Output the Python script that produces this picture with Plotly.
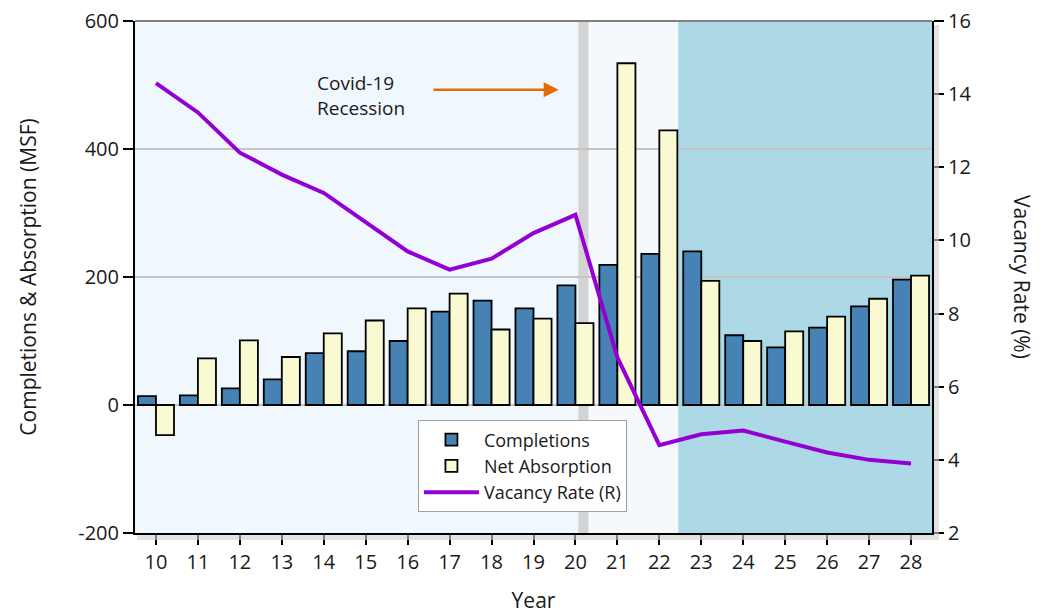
import plotly.graph_objects as go

years = list(range(10, 29))
completions = [14, 15, 26, 40, 81, 84, 100, 146, 163, 151, 187, 219, 236, 240, 109, 90, 121, 154, 196]
net_absorption = [-47, 73, 101, 75, 112, 132, 151, 174, 118, 135, 128, 534, 429, 194, 100, 115, 138, 166, 202]
vacancy = [14.3, 13.5, 12.4, 11.8, 11.3, 10.5, 9.7, 9.2, 9.5, 10.2, 10.7, 6.8, 4.4, 4.7, 4.8, 4.5, 4.2, 4.0, 3.9]
tick_labels = [str(y) for y in years]
left_ticks = [-200, 0, 200, 400, 600]
left_tick_text = ["-200", "0", "200", "400", "600"]
right_ticks = [2, 4, 6, 8, 10, 12, 14, 16]

FONT = "Open Sans"
TXT = "#1a1a1a"

# page body has an 8px margin; compensate so the plot area lands near 135..932 x 21..533
W, H = 1035, 606
ML, MR, MT, MB = 127, 111, 13, 81
PW = W - ML - MR
PH = H - MT - MB

fig = go.Figure()
fig.add_trace(go.Bar(x=years, y=completions, name="Completions",
                     marker=dict(color="#4682B4", line=dict(color="black", width=1.8))))
fig.add_trace(go.Bar(x=years, y=net_absorption, name="Net Absorption",
                     marker=dict(color="#FAFAD2", line=dict(color="black", width=1.8))))
fig.add_trace(go.Scatter(x=years, y=vacancy, name="Vacancy Rate (R)", yaxis="y2", mode="lines",
                         line=dict(color="#9400D3", width=4)))

shapes = [
    dict(type="rect", xref="x", yref="paper", x0=20.31, x1=22.45, y0=0, y1=1,
         fillcolor="#F5F9FE", line_width=0, layer="below"),
    dict(type="rect", xref="x", yref="paper", x0=22.45, x1=28.5, y0=0, y1=1,
         fillcolor="#ADD8E6", line_width=0, layer="below"),
    dict(type="rect", xref="x", yref="paper", x0=20.07, x1=20.31, y0=0, y1=1,
         fillcolor="#D3D3D3", line_width=0, layer="below"),
    dict(type="line", xref="paper", yref="paper", x0=0, x1=1, y0=1, y1=1,
         line=dict(color="#808080", width=2)),
    # soft shadows along right and bottom axes
    dict(type="rect", xref="paper", yref="paper", x0=1 + 2 / PW, x1=1 + 7 / PW,
         y0=-7 / PH, y1=1 - 4 / PH, fillcolor="#CFCFCF", opacity=0.6, line_width=0),
    dict(type="rect", xref="paper", yref="paper", x0=2 / PW, x1=1 + 2 / PW,
         y0=-7 / PH, y1=-2 / PH, fillcolor="#CFCFCF", opacity=0.6, line_width=0),
]

fig.update_layout(
    width=W, height=H,
    margin=dict(l=ML, r=MR, t=MT, b=MB, autoexpand=False),
    paper_bgcolor="white",
    plot_bgcolor="#F0F7FD",
    barmode="group", bargap=0.14, bargroupgap=0,
    font=dict(family=FONT, color=TXT),
    shapes=shapes,
    showlegend=True,
    legend=dict(x=0.355, y=0.22, xanchor="left", yanchor="top",
                bgcolor="white", bordercolor="#A0A0A0", borderwidth=1,
                font=dict(size=18, family=FONT, color=TXT), traceorder="normal",
                itemwidth=55, tracegroupgap=0),
    xaxis=dict(range=[9.5, 28.5], tickmode="array", tickvals=years, ticktext=tick_labels,
               ticks="outside", ticklen=10, tickwidth=2, tickcolor="black",
               showline=True, linecolor="black", linewidth=2, showgrid=False,
               automargin=False, tickfont=dict(size=20), ticklabeloverflow="allow",
               title=dict(text="Year", font=dict(size=21), standoff=20)),
    yaxis=dict(range=[-200, 600], tickmode="array", tickvals=left_ticks, ticktext=left_tick_text,
               ticks="outside", ticklen=10, tickwidth=2,
               tickcolor="black", showline=True, linecolor="black", linewidth=2,
               gridcolor="#C4C4C4", gridwidth=2, zeroline=True, zerolinecolor="#C4C4C4",
               zerolinewidth=2, tickfont=dict(size=20), automargin=False,
               ticklabeloverflow="allow",
               title=dict(text="Completions & Absorption (MSF)", font=dict(size=21), standoff=36)),
    yaxis2=dict(range=[2, 16], tickmode="array", tickvals=right_ticks, overlaying="y",
                side="right", ticks="outside",
                ticklen=10, tickwidth=2, tickcolor="black", showline=True, linecolor="black",
                linewidth=2, showgrid=False, zeroline=False, tickfont=dict(size=20),
                automargin=False, ticklabeloverflow="allow"),
    annotations=[
        dict(text="Covid-19<br>Recession", xref="x", yref="y", x=13.79, y=484,
             xanchor="left", yanchor="middle", align="left", showarrow=False,
             font=dict(size=19, family=FONT, color=TXT)),
        dict(text="", xref="x", yref="y", x=19.6, y=492.6, ax=16.58, ay=492.6,
             axref="x", ayref="y", showarrow=True, arrowhead=2, arrowsize=1.2,
             arrowwidth=2.5, arrowcolor="#E36C09"),
        dict(text="Vacancy Rate (%)", xref="paper", yref="paper", x=1.113, y=0.5,
             xanchor="center", yanchor="middle", textangle=90, showarrow=False,
             font=dict(size=21, family=FONT, color=TXT)),
    ],
)

fig.write_html("out.html")
